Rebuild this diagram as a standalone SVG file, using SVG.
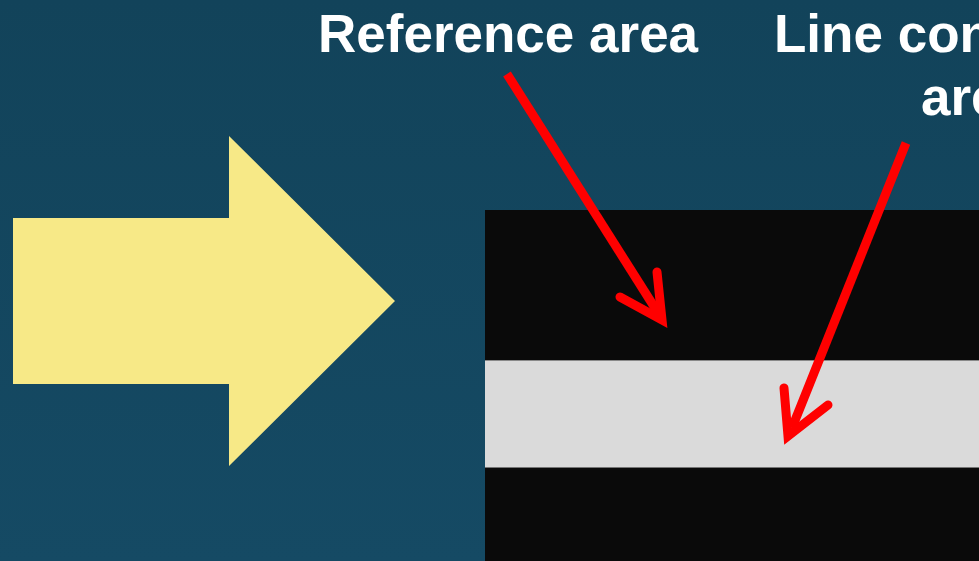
<svg xmlns="http://www.w3.org/2000/svg" width="979" height="561" viewBox="0 0 979 561">
  <defs>
    <linearGradient id="bg" x1="0" y1="0" x2="0" y2="1">
      <stop offset="0" stop-color="#12435a"/>
      <stop offset="1" stop-color="#154a64"/>
    </linearGradient>
    <style>
      .lbl { font-family: "Liberation Sans", Arial, sans-serif; font-weight: bold; font-size: 53px; fill: #ffffff; }
      .red { fill: none; stroke: #ff0000; stroke-width: 9; stroke-linecap: round; stroke-linejoin: miter; }
      .redline { fill: none; stroke: #ff0000; stroke-width: 9; stroke-linecap: butt; }
    </style>
  </defs>
  <rect x="0" y="0" width="979" height="561" fill="url(#bg)"/>

  <g id="yellow-arrow">
    <polygon points="13,218 229,218 229,136 395,301 229,466 229,384 13,384" fill="#f7e987"/>
  </g>

  <g id="image-area">
    <rect x="485" y="210" width="494" height="351" fill="#0a0a0a"/>
    <rect x="485" y="360" width="494" height="108" fill="#dadada"/>
    <line x1="485" y1="360.5" x2="979" y2="360.5" stroke="#555" stroke-width="1" opacity="0.6"/>
    <line x1="485" y1="467.5" x2="979" y2="467.5" stroke="#333" stroke-width="1" opacity="0.6"/>
  </g>

  <g id="label-reference">
    <text class="lbl" x="318" y="52">Reference area</text>
  </g>
  <g id="label-line">
    <text class="lbl" x="774" y="52">Line con</text>
    <text class="lbl" x="921" y="115">are</text>
  </g>

  <g id="connectors">
    <line class="redline" x1="507" y1="74" x2="660" y2="316"/>
    <polyline class="red" points="657,272 662,320 620,297"/>
    <line class="redline" x1="906" y1="143" x2="792" y2="428"/>
    <polyline class="red" points="784,388 788,436 828,405"/>
  </g>
</svg>
